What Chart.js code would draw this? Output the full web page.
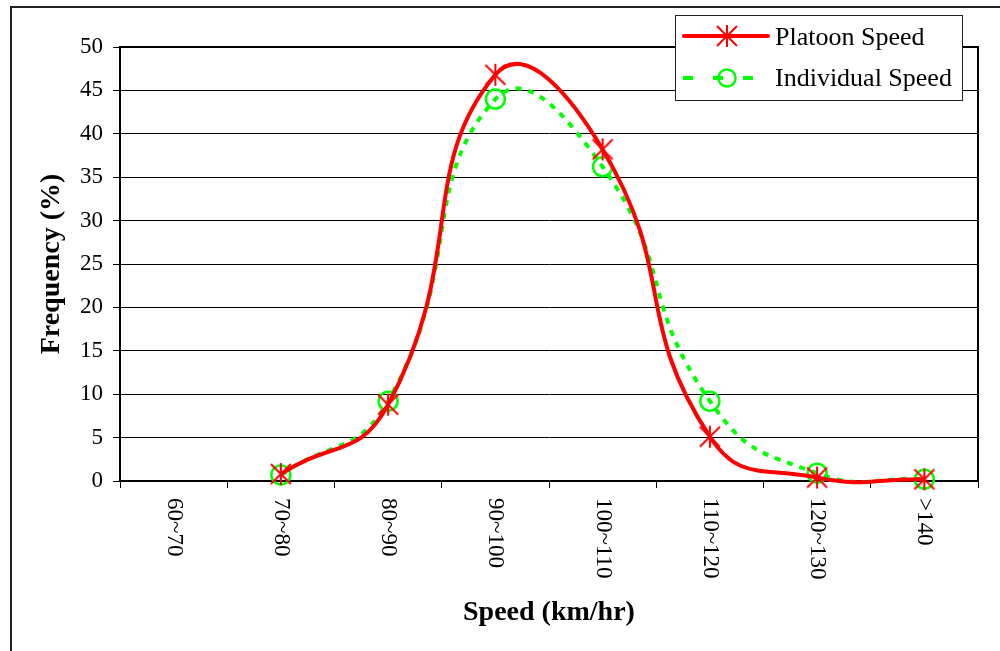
<!DOCTYPE html>
<html><head><meta charset="utf-8">
<script src="https://cdn.jsdelivr.net/npm/chart.js@4"></script>
<style>html,body{margin:0;padding:0;background:#fff}#wrap{width:1000px;height:651px;position:relative}</style>
</head><body><div id="wrap"><canvas id="c" width="1000" height="651"></canvas></div>
<script>
const categories = ['60~70','70~80','80~90','90~100','100~110','110~120','120~130','>140'];
const platoonSpeed = [null, 0.8, 8.8, 46.8, 38.2, 5.1, 0.4, 0.2];
const individualSpeed = [null, 0.7, 9.2, 44.0, 36.2, 9.2, 0.9, 0.2];
const yMin = 0, yMax = 50, yStep = 5;
const seriesNames = ['Platoon Speed', 'Individual Speed'];
const xTitle = 'Speed (km/hr)';
const yTitle = 'Frequency (%)';

const SERIF = "'Liberation Serif', 'Times New Roman', serif";
const RED = '#FF0000', GREEN = '#00FF00';

function makeStar(size, color, lw) {
  const c = document.createElement('canvas');
  c.width = size; c.height = size;
  const g = c.getContext('2d');
  const m = size / 2, a = size / 2 - 2;
  g.strokeStyle = color; g.lineWidth = lw; g.lineCap = 'butt';
  g.beginPath();
  g.moveTo(m - a, m - a); g.lineTo(m + a, m + a);
  g.moveTo(m + a, m - a); g.lineTo(m - a, m + a);
  g.moveTo(m, m - a - 1); g.lineTo(m, m + a + 1);
  g.stroke();
  return c;
}
const starImg = makeStar(24, RED, 2);

const framePlugin = {
  id: 'frame',
  beforeDraw(chart) {
    const ctx = chart.ctx;
    ctx.save();
    ctx.fillStyle = '#fff';
    ctx.fillRect(0, 0, chart.width, chart.height);
    ctx.fillStyle = '#222';
    ctx.fillRect(10, 6, 2, chart.height - 6);
    ctx.fillRect(10, 6, chart.width - 10, 2);
    ctx.restore();
  },
  beforeDatasetsDraw(chart) {
    const ctx = chart.ctx, a = chart.chartArea;
    ctx.save();
    ctx.strokeStyle = '#000';
    ctx.lineWidth = 2;
    ctx.beginPath();
    ctx.moveTo(a.left, a.top); ctx.lineTo(a.right, a.top); ctx.lineTo(a.right, a.bottom);
    ctx.stroke();
    ctx.restore();
  },
  afterDraw(chart) {
    const ctx = chart.ctx, xs = chart.scales.x;
    ctx.save();
    ctx.fillStyle = '#000';
    ctx.font = '23px ' + SERIF;
    ctx.textAlign = 'left';
    ctx.textBaseline = 'middle';
    categories.forEach((lab, i) => {
      const x = xs.getPixelForValue(i);
      ctx.save();
      ctx.translate(x, 498);
      ctx.rotate(Math.PI / 2);
      ctx.fillText(lab, 0, 0);
      ctx.restore();
    });
    const lx = 675, ly = 15, lw = 287, lh = 85;
    ctx.fillStyle = '#fff';
    ctx.fillRect(lx, ly, lw, lh);
    ctx.strokeStyle = '#222';
    ctx.lineWidth = 1;
    ctx.strokeRect(lx + 0.5, ly + 0.5, lw, lh);
    ctx.strokeStyle = RED; ctx.lineWidth = 4; ctx.lineCap = 'round';
    ctx.beginPath(); ctx.moveTo(684, 36); ctx.lineTo(768, 36); ctx.stroke();
    ctx.drawImage(starImg, 727 - 12, 36 - 12);
    ctx.strokeStyle = GREEN; ctx.lineWidth = 4; ctx.lineCap = 'butt';
    ctx.setLineDash([10, 20]);
    ctx.beginPath(); ctx.moveTo(683, 78); ctx.lineTo(770, 78); ctx.stroke();
    ctx.setLineDash([]);
    ctx.lineWidth = 2.5;
    ctx.beginPath(); ctx.arc(727, 78, 8.5, 0, Math.PI * 2); ctx.stroke();
    ctx.fillStyle = '#000';
    ctx.font = '26px ' + SERIF;
    ctx.textAlign = 'left'; ctx.textBaseline = 'middle';
    ctx.fillText(seriesNames[0], 775, 38);
    ctx.fillText(seriesNames[1], 775, 79);
    ctx.restore();
  }
};

new Chart(document.getElementById('c'), {
  type: 'line',
  data: {
    labels: categories,
    datasets: [
      {
        label: seriesNames[0], data: platoonSpeed,
        borderColor: RED, borderWidth: 4, backgroundColor: RED,
        pointStyle: starImg, pointRadius: 10, pointHoverRadius: 10,
        tension: 0.5, fill: false, clip: false, spanGaps: false
      },
      {
        label: seriesNames[1], data: individualSpeed,
        borderColor: GREEN, borderWidth: 4, borderDash: [6, 7],
        backgroundColor: 'rgba(0,0,0,0)',
        pointStyle: 'circle', pointRadius: 9.5, pointBorderWidth: 2.5,
        pointBorderColor: GREEN, pointBackgroundColor: 'rgba(0,0,0,0)',
        tension: 0.5, fill: false, clip: false, spanGaps: false
      }
    ]
  },
  options: {
    responsive: false, animation: false, devicePixelRatio: 1,
    layout: { padding: { top: 47, right: 22, left: 0, bottom: 0 } },
    elements: { line: { capBezierPoints: false } },
    plugins: { legend: { display: false }, tooltip: { enabled: false } },
    scales: {
      x: {
        type: 'category', offset: true,
        grid: { display: true, drawOnChartArea: false, drawTicks: true, tickLength: 7, color: '#000', offset: true },
        border: { display: true, color: '#000', width: 2 },
        ticks: { display: false },
        title: { display: true, text: xTitle, color: '#000', font: { family: SERIF, size: 28, weight: 'bold' }, padding: { top: 0, bottom: 21 } },
        afterFit(s) { s.height = 170; }
      },
      y: {
        min: yMin, max: yMax,
        ticks: { stepSize: yStep, color: '#000', padding: 10, font: { family: SERIF, size: 23 }, autoSkip: false },
        grid: { color: '#000', lineWidth: 1, tickLength: 7, drawTicks: true },
        border: { display: true, color: '#000', width: 2 },
        title: { display: true, text: yTitle, color: '#000', font: { family: SERIF, size: 28, weight: 'bold' }, padding: { top: 35, bottom: 0 } },
        afterFit(s) { s.width = 120; }
      }
    }
  },
  plugins: [framePlugin]
});
</script>
</body></html>
